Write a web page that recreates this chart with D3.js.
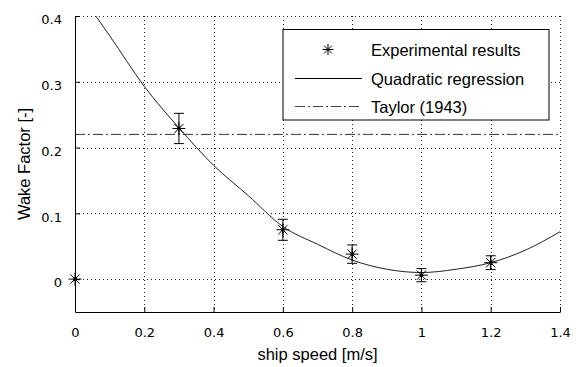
<!DOCTYPE html>
<html lang="en">
<head>
  <meta charset="UTF-8">
  <title>Wake Factor vs ship speed</title>
  <script src="https://d3js.org/d3.v7.min.js"></script>
  <style>
    body { margin: 0; padding: 0; background: #fff; }
    svg { display: block; }
    .tick text { font-family: "DejaVu Sans", sans-serif; font-size: 13px; fill: #000; }
    .label { font-family: "Liberation Sans", Arial, sans-serif; font-size: 16.5px; fill: #000; }
  </style>
</head>
<body>
  <div id="chart"></div>
  <script>
    // experimental points (speed, wake factor, error half-width)
    const speed = [0, 0.3, 0.6, 0.8, 1.0, 1.2];
    const wake = [0, 0.229, 0.075, 0.038, 0.006, 0.025];
    const wakeErr = [0, 0.023, 0.016, 0.014, 0.010, 0.0105];

    // quadratic regression curve
    const fitSpeed = [0.06, 0.1, 0.2, 0.3, 0.4, 0.5, 0.6, 0.7, 0.8, 0.9, 1.0, 1.1, 1.2, 1.3, 1.4];
    const fitWake = [0.400, 0.370, 0.293, 0.230, 0.173, 0.127, 0.080, 0.053, 0.029, 0.015, 0.010, 0.015, 0.025, 0.044, 0.072];

    const taylorWake = 0.22;

    const xTicks = [0, 0.2, 0.4, 0.6, 0.8, 1, 1.2, 1.4];
    const xTickLabels = ["0", "0.2", "0.4", "0.6", "0.8", "1", "1.2", "1.4"];
    const yTicks = [0, 0.1, 0.2, 0.3, 0.4];
    const yTickLabels = ["0", "0.1", "0.2", "0.3", "0.4"];

    const legendLabels = ["Experimental results", "Quadratic regression", "Taylor (1943)"];

    const W = 578, H = 367;
    const margin = { top: 16, right: 18, bottom: 55, left: 75 };
    const width = W - margin.left - margin.right;
    const height = H - margin.top - margin.bottom;

    const svg = d3.select("#chart").append("svg")
      .attr("width", W)
      .attr("height", H);

    const g = svg.append("g")
      .attr("transform", `translate(${margin.left},${margin.top})`);

    const x = d3.scaleLinear().domain([0, 1.4]).range([0, width]);
    const y = d3.scaleLinear().domain([-0.05, 0.4]).range([height, 0]);

    g.append("clipPath").attr("id", "clip")
      .append("rect").attr("width", width).attr("height", height);

    // dotted grid
    const grid = g.append("g")
      .attr("stroke", "#222")
      .attr("stroke-width", 1)
      .attr("stroke-dasharray", "1,3")
      .attr("shape-rendering", "crispEdges");
    grid.selectAll(".gx")
      .data(xTicks.filter(d => d > 0))
      .join("line")
      .attr("x1", d => Math.round(x(d)) + 0.5).attr("x2", d => Math.round(x(d)) + 0.5)
      .attr("y1", 0).attr("y2", height);
    grid.selectAll(".gy")
      .data(yTicks)
      .join("line")
      .attr("class", "gy")
      .attr("x1", 0).attr("x2", width)
      .attr("y1", d => Math.round(y(d)) + 0.5).attr("y2", d => Math.round(y(d)) + 0.5);

    // axes, ticks pointing inwards
    g.append("g")
      .attr("transform", `translate(0,${height})`)
      .call(d3.axisBottom(x).tickValues(xTicks).tickSizeInner(-5).tickSizeOuter(0)
        .tickPadding(16).tickFormat((d, i) => xTickLabels[i]))
      .call(a => a.select(".domain").attr("stroke", "#000"));

    g.append("g")
      .call(d3.axisLeft(y).tickValues(yTicks).tickSizeInner(-5).tickSizeOuter(0)
        .tickPadding(13).tickFormat((d, i) => yTickLabels[i]))
      .call(a => a.select(".domain").attr("stroke", "#000"))
      .call(a => a.selectAll(".tick text").attr("dy", "0.6em"));

    // Taylor (1943)
    g.append("line")
      .attr("x1", x(0)).attr("x2", x(1.4))
      .attr("y1", y(taylorWake)).attr("y2", y(taylorWake))
      .attr("stroke", "#333")
      .attr("stroke-width", 1)
      .attr("stroke-dasharray", "10,3,2,3");

    // quadratic regression
    const fit = fitSpeed.map((s, i) => ({ s, w: fitWake[i] }));
    g.append("path")
      .datum(fit)
      .attr("clip-path", "url(#clip)")
      .attr("fill", "none")
      .attr("stroke", "#222")
      .attr("stroke-width", 1)
      .attr("d", d3.line().x(d => x(d.s)).y(d => y(d.w)).curve(d3.curveMonotoneX));

    // experimental results with error bars
    const pts = speed.map((s, i) => ({ s, w: wake[i], e: wakeErr[i] }));
    const star = r => {
      const q = r * Math.SQRT1_2;
      return `M${-r},0H${r}M0,${-r}V${r}M${-q},${-q}L${q},${q}M${-q},${q}L${q},${-q}`;
    };

    const bars = g.append("g").attr("stroke", "#000").attr("stroke-width", 1);
    pts.filter(d => d.e > 0).forEach(d => {
      const cx = x(d.s);
      bars.append("line").attr("x1", cx).attr("x2", cx)
        .attr("y1", y(d.w - d.e)).attr("y2", y(d.w + d.e));
      [d.w - d.e, d.w + d.e].forEach(v => {
        bars.append("line").attr("x1", cx - 5).attr("x2", cx + 5)
          .attr("y1", y(v)).attr("y2", y(v));
      });
    });

    g.selectAll(".star")
      .data(pts)
      .join("path")
      .attr("class", "star")
      .attr("transform", d => `translate(${x(d.s)},${y(d.w)})`)
      .attr("d", star(6.5))
      .attr("fill", "none")
      .attr("stroke", "#000")
      .attr("stroke-width", 1);

    g.selectAll(".dot")
      .data(pts)
      .join("circle")
      .attr("cx", d => x(d.s))
      .attr("cy", d => y(d.w))
      .attr("r", 1.8)
      .attr("fill", "#000");

    // axis labels
    svg.append("text")
      .attr("class", "label")
      .attr("x", margin.left + width / 2)
      .attr("y", 360)
      .attr("text-anchor", "middle")
      .text("ship speed [m/s]");

    svg.append("text")
      .attr("class", "label")
      .attr("transform", `translate(30,${margin.top + height / 2}) rotate(-90)`)
      .attr("text-anchor", "middle")
      .text("Wake Factor [-]");

    // legend
    const lg = svg.append("g").attr("transform", "translate(283,29.5)");
    lg.append("rect")
      .attr("width", 266).attr("height", 90.5)
      .attr("fill", "#fff")
      .attr("stroke", "#000")
      .attr("stroke-width", 1);

    const rowY = [20, 49, 77];
    lg.append("path")
      .attr("transform", `translate(45,${rowY[0]})`)
      .attr("d", star(5.5))
      .attr("stroke", "#000").attr("fill", "none");
    lg.append("line")
      .attr("x1", 12).attr("x2", 79).attr("y1", rowY[1]).attr("y2", rowY[1])
      .attr("stroke", "#000");
    lg.append("line")
      .attr("x1", 12).attr("x2", 79).attr("y1", rowY[2]).attr("y2", rowY[2])
      .attr("stroke", "#444")
      .attr("stroke-dasharray", "10,3,2,3");

    lg.selectAll(".lt")
      .data(legendLabels)
      .join("text")
      .attr("class", "label")
      .attr("x", 88)
      .attr("y", (d, i) => rowY[i] + 6)
      .text(d => d);
  </script>
</body>
</html>
